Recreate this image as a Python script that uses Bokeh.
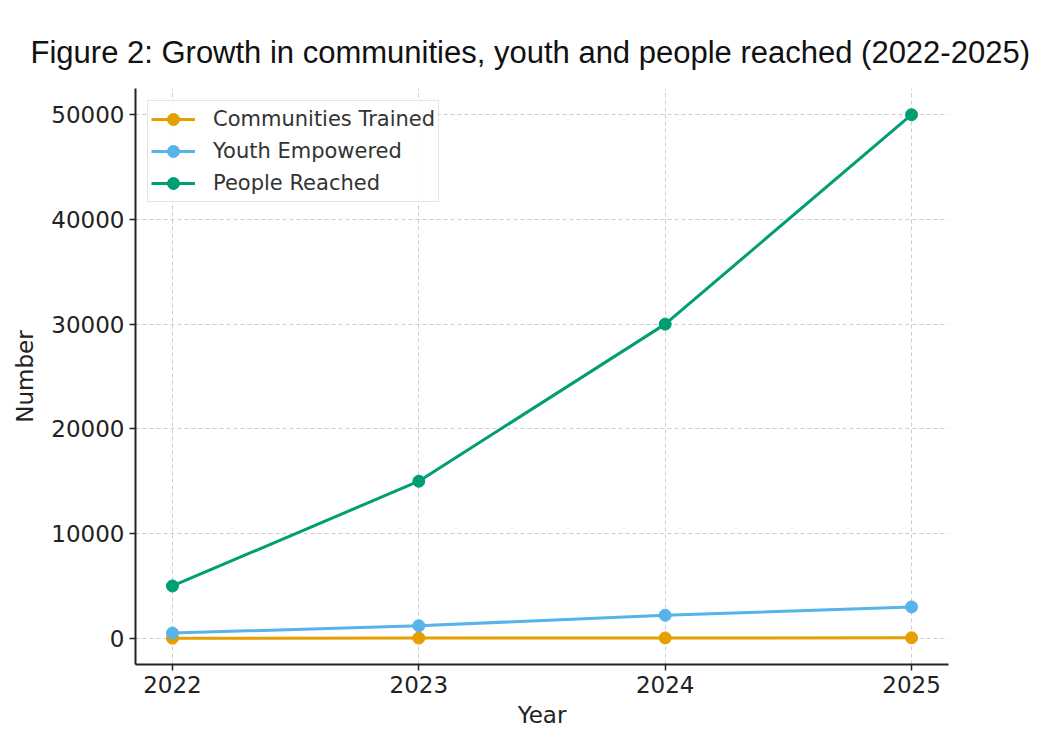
from bokeh.plotting import figure
from bokeh.models import FixedTicker, Range1d
from bokeh.embed import file_html
from bokeh.resources import INLINE

years = [2022, 2023, 2024, 2025]
communities_trained = [10, 20, 35, 50]
youth_empowered = [500, 1200, 2200, 3000]
people_reached = [5000, 15000, 30000, 50000]
y_ticks = [0, 10000, 20000, 30000, 40000, 50000]

series = [
    ("Communities Trained", communities_trained, "#E69F00"),
    ("Youth Empowered", youth_empowered, "#56B4E9"),
    ("People Reached", people_reached, "#009E73"),
]

p = figure(width=1035, height=730, output_backend="svg", toolbar_location=None,
           x_range=Range1d(2021.85, 2025.15), y_range=Range1d(-2500, 52500),
           min_border_left=135, min_border_right=87, min_border_top=88, min_border_bottom=65,
           title="Figure 2: Growth in communities, youth and people reached (2022-2025)")

for name, vals, col in series:
    p.line(years, vals, line_color=col, line_width=3, legend_label=name)
    p.scatter(years, vals, size=12, fill_color=col, line_color=col, legend_label=name)

p.title.text_font = "Liberation Sans"
p.title.text_font_size = "31px"
p.title.text_font_style = "normal"
p.title.text_color = "#111111"
p.title.offset = -105
p.title.standoff = 38

p.xaxis.ticker = FixedTicker(ticks=years)
p.yaxis.ticker = FixedTicker(ticks=y_ticks)
p.xaxis.axis_label = "Year"
p.yaxis.axis_label = "Number"
for ax in (p.xaxis, p.yaxis):
    ax.axis_label_text_font = "DejaVu Sans"
    ax.axis_label_text_font_size = "23px"
    ax.axis_label_text_font_style = "normal"
    ax.axis_label_text_color = "#222222"
    ax.major_label_text_font = "DejaVu Sans"
    ax.major_label_text_font_size = "23px"
    ax.major_label_text_color = "#222222"
    ax.axis_line_color = "#222222"
    ax.axis_line_width = 2
    ax.major_tick_line_color = "#222222"
    ax.major_tick_line_width = 1.5
    ax.major_tick_out = 6
    ax.major_tick_in = 0
    ax.minor_tick_line_color = None
p.xaxis.axis_label_standoff = 6
p.yaxis.axis_label_standoff = 10

p.xgrid.grid_line_color = "#cccccc"
p.ygrid.grid_line_color = "#cccccc"
p.xgrid.grid_line_dash = "4 3"
p.ygrid.grid_line_dash = "4 3"
p.outline_line_color = None

p.legend.location = "top_left"
p.legend.margin = 12
p.legend.padding = 3
p.legend.spacing = 2
p.legend.label_text_font = "DejaVu Sans"
p.legend.label_text_font_size = "21px"
p.legend.label_text_color = "#333333"
p.legend.glyph_width = 44
p.legend.glyph_height = 30
p.legend.label_standoff = 18
p.legend.border_line_color = "#cccccc"
p.legend.border_line_width = 1.5
p.legend.background_fill_alpha = 0.9

open("out.html", "w").write(file_html(p, INLINE))
